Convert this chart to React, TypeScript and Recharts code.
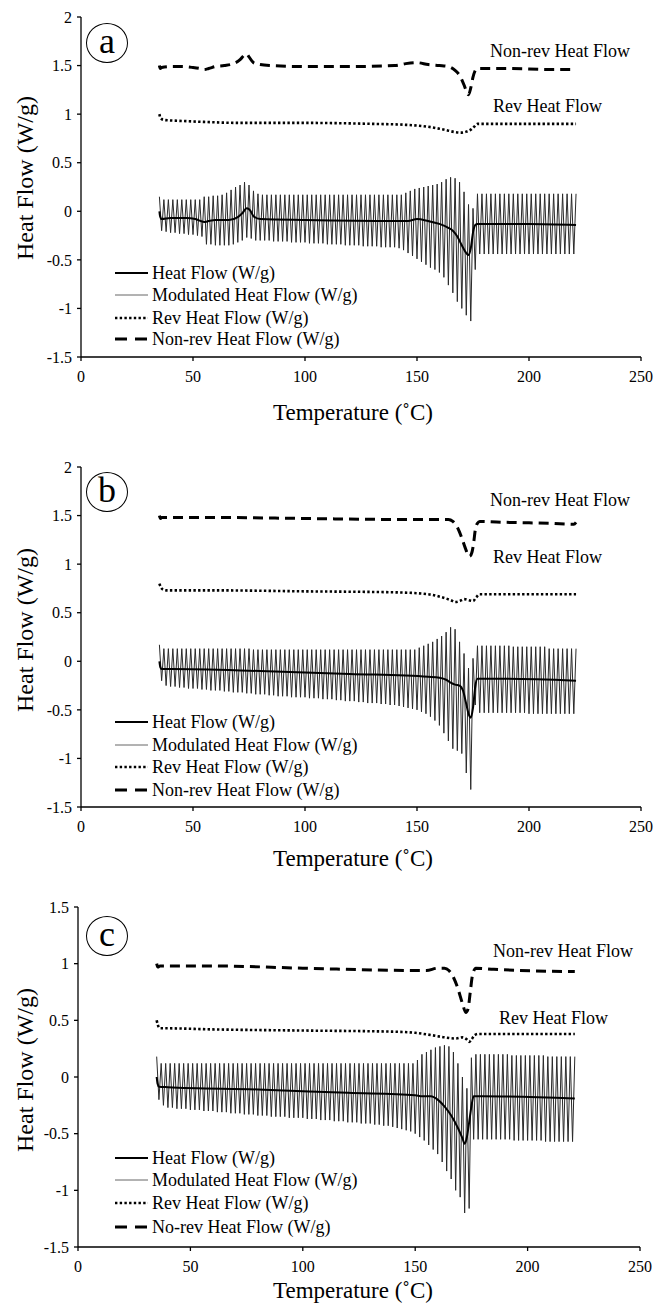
import React from "react"
import { Line, LineChart, XAxis, YAxis } from "recharts"

type Pt = [number, number]

const SERIF = "'Liberation Serif', 'Times New Roman', serif"

const X_TICKS = [0, 50, 100, 150, 200, 250]
const Y_TICKS_AB = [-1.5, -1, -0.5, 0, 0.5, 1, 1.5, 2]
const Y_TICKS_C = [-1.5, -1, -0.5, 0, 0.5, 1, 1.5]

const LEGEND_AB = [
  "Heat Flow (W/g)",
  "Modulated Heat Flow (W/g)",
  "Rev Heat Flow (W/g)",
  "Non-rev Heat Flow (W/g)",
]
const LEGEND_C = [
  "Heat Flow (W/g)",
  "Modulated Heat Flow (W/g)",
  "Rev Heat Flow (W/g)",
  "No-rev Heat Flow (W/g)",
]

// modulation: a peak every 2 °C starting at 35 °C, trough 1 °C after each peak
const MOD_T0 = 35

// ---------- panel a ----------
const hfA: Pt[] = [
  [35, 0], [35.3, -0.05], [36, -0.08], [40, -0.07], [47, -0.07], [51, -0.08], [55, -0.11],
  [57, -0.1], [60, -0.09], [66, -0.09], [70, -0.06], [72, -0.02], [74, 0.03], [75.5, 0.01],
  [77, -0.05], [80, -0.08], [100, -0.09], [140, -0.1], [146, -0.1], [150, -0.08], [155, -0.1],
  [160, -0.13], [164, -0.17], [166, -0.2], [168, -0.26], [170, -0.35], [172, -0.43], [173, -0.45],
  [174, -0.38], [175, -0.22], [176, -0.14], [177, -0.13], [200, -0.13], [221, -0.14],
]
const revA: Pt[] = [
  [35, 1.0], [35.5, 0.96], [37, 0.94], [45, 0.93], [55, 0.92], [70, 0.91], [100, 0.91],
  [130, 0.9], [145, 0.89], [155, 0.87], [160, 0.85], [164, 0.83], [167, 0.815], [170, 0.81],
  [172, 0.82], [174, 0.84], [175.5, 0.87], [177, 0.9], [185, 0.9], [221, 0.9],
]
const nonRevA: Pt[] = [
  [35, 1.5], [35.4, 1.47], [36, 1.48], [40, 1.49], [45, 1.49], [50, 1.48], [53, 1.47], [55, 1.46],
  [57, 1.47], [60, 1.49], [64, 1.5], [68, 1.52], [71, 1.56], [73, 1.61], [74, 1.62], [75, 1.59],
  [77, 1.53], [80, 1.51], [85, 1.5], [100, 1.49], [120, 1.49], [140, 1.5], [145, 1.52], [150, 1.53],
  [155, 1.51], [160, 1.5], [164, 1.49], [167, 1.45], [169, 1.4], [171, 1.3], [172, 1.24], [173, 1.2],
  [174, 1.27], [175, 1.38], [176, 1.45], [177, 1.47], [190, 1.47], [210, 1.46], [221, 1.46],
]
const modHiA = [
  0.15,
  0.12, 0.12, 0.12, 0.12, 0.12, 0.12, 0.12, 0.12, 0.12,
  0.15, 0.15, 0.16, 0.16, 0.17, 0.19, 0.22,
  0.25, 0.27, 0.3, 0.27, 0.21, 0.18, 0.17,
  0.17, 0.17, 0.17, 0.17, 0.17, 0.17, 0.17, 0.17, 0.17, 0.17,
  0.17, 0.17, 0.17, 0.17, 0.17, 0.17, 0.17, 0.17, 0.17, 0.17,
  0.17, 0.17, 0.17, 0.17, 0.17, 0.17, 0.17, 0.17, 0.17, 0.17, 0.17,
  0.19, 0.21, 0.23, 0.24, 0.25, 0.26, 0.27, 0.28,
  0.3, 0.33, 0.35, 0.34, 0.3, 0.2, 0.07, 0.03,
  0.18, 0.18, 0.18, 0.18, 0.18, 0.18, 0.18, 0.18, 0.18, 0.18, 0.18, 0.18,
  0.18, 0.18, 0.18, 0.18, 0.18, 0.18, 0.18, 0.18, 0.18, 0.18, 0.18,
]
const modLoA = [
  -0.2,
  -0.21, -0.22, -0.22, -0.23, -0.23, -0.24, -0.24, -0.25, -0.26,
  -0.34, -0.34, -0.35, -0.35, -0.35, -0.35, -0.34, -0.32,
  -0.3, -0.27, -0.28, -0.3,
  -0.3, -0.3, -0.3, -0.31, -0.31, -0.31, -0.31, -0.32, -0.32, -0.32,
  -0.32, -0.33, -0.33, -0.33, -0.33, -0.34, -0.34, -0.34, -0.34, -0.35,
  -0.35, -0.35, -0.35, -0.36, -0.36, -0.36, -0.36, -0.37, -0.37, -0.37, -0.37,
  -0.38, -0.4, -0.43, -0.46, -0.49, -0.52, -0.55, -0.58, -0.6,
  -0.63, -0.68, -0.76, -0.84, -0.93, -1.0, -1.07, -1.13,
  -0.6,
  -0.44, -0.44, -0.44, -0.44, -0.44, -0.44, -0.44, -0.44, -0.44, -0.44, -0.44,
  -0.44, -0.44, -0.44, -0.44, -0.44, -0.44, -0.44, -0.44, -0.44, -0.44, -0.44,
]

// ---------- panel b ----------
const hfB: Pt[] = [
  [35, 0], [35.4, -0.06], [36, -0.08], [40, -0.08], [80, -0.1], [120, -0.13], [155, -0.16],
  [160, -0.17], [163, -0.19], [165, -0.22], [167, -0.24], [169, -0.25], [170.5, -0.3], [172, -0.44],
  [173, -0.54], [174, -0.58], [175, -0.48], [176, -0.26], [177, -0.18], [190, -0.18], [221, -0.2],
]
const revB: Pt[] = [
  [35, 0.8], [35.5, 0.77], [36.5, 0.74], [38, 0.73], [60, 0.73], [100, 0.72], [140, 0.71],
  [155, 0.69], [161, 0.66], [165, 0.63], [167, 0.61], [169, 0.62], [171, 0.64], [173, 0.63],
  [175, 0.62], [176.5, 0.66], [178, 0.69], [190, 0.69], [221, 0.69],
]
const nonRevB: Pt[] = [
  [35, 1.5], [35.5, 1.47], [36, 1.48], [60, 1.48], [100, 1.47], [140, 1.46], [164, 1.46],
  [166, 1.44], [168, 1.38], [170, 1.27], [171.5, 1.17], [172.5, 1.11], [173.5, 1.08], [174.5, 1.12],
  [175.3, 1.22], [176, 1.35], [177, 1.42], [178, 1.44], [190, 1.43], [210, 1.42], [220, 1.41],
  [221, 1.43],
]
const modHiB = [
  0.17,
  0.13, 0.13, 0.13, 0.13, 0.13, 0.13, 0.13, 0.13, 0.13, 0.13,
  0.13, 0.13, 0.13, 0.13, 0.13, 0.13, 0.13, 0.13, 0.13, 0.13,
  0.12, 0.12, 0.12, 0.12, 0.12, 0.12, 0.12, 0.12, 0.12, 0.12,
  0.12, 0.12, 0.12, 0.12, 0.12, 0.12, 0.12, 0.12, 0.12, 0.12,
  0.12, 0.12, 0.12, 0.12, 0.12, 0.12, 0.12, 0.12, 0.12, 0.12,
  0.12, 0.12, 0.12, 0.12, 0.12, 0.12, 0.12,
  0.14, 0.16, 0.18, 0.2, 0.23, 0.26, 0.3, 0.35, 0.33, 0.2, 0.08, -0.07, 0.03,
  0.16, 0.16, 0.16, 0.16, 0.16, 0.16, 0.16, 0.16,
  0.15, 0.15, 0.15, 0.15, 0.15, 0.15, 0.15, 0.15,
  0.13, 0.13, 0.13, 0.13, 0.13, 0.13, 0.13,
]
const modLoB = [
  -0.2, -0.25,
  -0.26, -0.26, -0.27, -0.27, -0.28, -0.28, -0.28, -0.29, -0.29, -0.3,
  -0.3, -0.3, -0.31, -0.31, -0.32, -0.32, -0.32, -0.33, -0.33, -0.34,
  -0.34, -0.34, -0.35, -0.35, -0.36, -0.36, -0.36, -0.37, -0.37, -0.37,
  -0.37, -0.38, -0.38, -0.38, -0.39, -0.39, -0.39, -0.4, -0.4, -0.41,
  -0.41, -0.41, -0.42, -0.42, -0.43, -0.43, -0.43, -0.44, -0.44, -0.45,
  -0.45, -0.46, -0.47, -0.48, -0.49, -0.5, -0.52, -0.54, -0.57,
  -0.61, -0.66, -0.74, -0.82, -0.9, -0.92, -0.95, -1.15, -1.32,
  -0.45,
  -0.53, -0.53, -0.53, -0.53, -0.53, -0.53, -0.53, -0.53, -0.53, -0.53, -0.53,
  -0.54, -0.54, -0.54, -0.54, -0.54, -0.54, -0.54, -0.54, -0.54, -0.54, -0.54,
]

// ---------- panel c ----------
const hfC: Pt[] = [
  [35, 0], [35.4, -0.06], [36, -0.085], [40, -0.09], [80, -0.11], [120, -0.14], [150, -0.16],
  [153, -0.17], [157, -0.17], [160, -0.2], [163, -0.26], [166, -0.34], [169, -0.45], [171, -0.54],
  [172, -0.59], [173, -0.53], [174, -0.4], [175, -0.26], [176, -0.17], [180, -0.17], [221, -0.19],
]
const revC: Pt[] = [
  [35, 0.5], [35.5, 0.46], [36.5, 0.43], [38, 0.43], [60, 0.42], [100, 0.41], [140, 0.4],
  [150, 0.39], [157, 0.37], [163, 0.35], [168, 0.34], [171, 0.35], [173, 0.33], [174, 0.31],
  [175, 0.33], [176.5, 0.37], [178, 0.38], [221, 0.38],
]
const nonRevC: Pt[] = [
  [35, 1.0], [35.5, 0.97], [36.5, 0.98], [60, 0.98], [100, 0.96], [150, 0.94], [155, 0.94],
  [160, 0.96], [163, 0.96], [165, 0.94], [167, 0.88], [169, 0.78], [171, 0.65], [172.5, 0.57],
  [173.5, 0.6], [174.5, 0.75], [175.5, 0.9], [177, 0.96], [185, 0.95], [221, 0.93],
]
const modHiC = [
  0.18,
  0.12, 0.12, 0.12, 0.12, 0.12, 0.12, 0.12, 0.12, 0.12, 0.12,
  0.12, 0.12, 0.12, 0.12, 0.12, 0.12, 0.12, 0.12, 0.12, 0.12,
  0.12, 0.12, 0.12, 0.12, 0.12, 0.12, 0.12, 0.12, 0.12, 0.12,
  0.12, 0.12, 0.12, 0.12, 0.12, 0.12, 0.12, 0.12, 0.12, 0.12,
  0.12, 0.12, 0.12, 0.12, 0.12, 0.12, 0.12, 0.12, 0.12, 0.12,
  0.12, 0.12, 0.12, 0.12, 0.12, 0.12, 0.12,
  0.15, 0.2, 0.22, 0.24, 0.26, 0.27, 0.28, 0.27, 0.22, 0.12, 0.0, -0.1, 0.17,
  0.2, 0.2, 0.2, 0.2, 0.2, 0.2, 0.2, 0.2,
  0.19, 0.19, 0.19, 0.19, 0.19, 0.19, 0.19, 0.19,
  0.18, 0.18, 0.18, 0.18, 0.18, 0.18, 0.18,
]
const modLoC = [
  -0.2, -0.25,
  -0.27, -0.27, -0.28, -0.28, -0.28, -0.29, -0.29, -0.29, -0.3, -0.3,
  -0.3, -0.31, -0.31, -0.31, -0.32, -0.32, -0.32, -0.33, -0.33, -0.33,
  -0.34, -0.34, -0.34, -0.35, -0.35, -0.35, -0.35, -0.36, -0.36, -0.36,
  -0.36, -0.37, -0.37, -0.37, -0.38, -0.38, -0.38, -0.39, -0.39, -0.39,
  -0.4, -0.4, -0.4, -0.41, -0.41, -0.41, -0.42, -0.42, -0.43, -0.43,
  -0.44, -0.45, -0.46, -0.47, -0.48,
  -0.5, -0.53, -0.56, -0.6, -0.64, -0.68, -0.75, -0.83, -0.9, -1.0, -1.06, -1.2, -1.16,
  -0.55,
  -0.55, -0.55, -0.55, -0.55, -0.55, -0.55, -0.55, -0.55,
  -0.56, -0.56, -0.56, -0.56, -0.56, -0.56, -0.56,
  -0.57, -0.57, -0.57, -0.57, -0.57, -0.57, -0.57,
]

const toRows = (pts: Pt[]) => pts.map(([t, v]) => ({ t, v }))

// zig-zag of the modulated signal: peak, trough, peak, ...
function modRows(hi: number[], lo: number[]) {
  const rows: { t: number; v: number }[] = []
  hi.forEach((h, i) => {
    rows.push({ t: MOD_T0 + 2 * i, v: h })
    if (i < lo.length) rows.push({ t: MOD_T0 + 2 * i + 1, v: lo[i] })
  })
  return rows
}

const axisStyle = { stroke: "#000", strokeWidth: 1.3 }
const tickStyle = { fill: "#000", fontSize: 16, fontFamily: SERIF }

function Swatch({ kind }: { kind: number }) {
  const props = [
    { stroke: "#000", strokeWidth: 2 },
    { stroke: "#666", strokeWidth: 1 },
    { stroke: "#000", strokeWidth: 2.6, strokeDasharray: "2.4 2.3" },
    { stroke: "#000", strokeWidth: 3, strokeDasharray: "12 8" },
  ][kind]
  return (
    <svg width={34} height={8} style={{ display: "block" }}>
      <line x1={0} y1={4} x2={33} y2={4} {...props} />
    </svg>
  )
}

interface PanelProps {
  top: number
  height: number
  left: number
  right: number
  letter: string
  letterY: number
  yTicks: number[]
  hf: Pt[]
  rev: Pt[]
  nonRev: Pt[]
  modHi: number[]
  modLo: number[]
  legend: string[]
  legendY: number[]
  nonRevNote: [number, number]
  revNote: [number, number]
  yTitleY: number
  xTitleY: number
}

function Panel(p: PanelProps) {
  const plotTop = 17
  const plotBottom = 357
  const xAxisH = 30
  const yMin = p.yTicks[0]
  const yMax = p.yTicks[p.yTicks.length - 1]
  const text = (x: number, y: number, size: number, s: string) => (
    <div
      style={{
        position: "absolute",
        left: x,
        top: y,
        transform: "translateY(-50%)",
        fontFamily: SERIF,
        fontSize: size,
        lineHeight: 1,
        whiteSpace: "nowrap",
        color: "#000",
      }}
    >
      {s}
    </div>
  )

  return (
    <div style={{ position: "absolute", left: 0, top: p.top, width: 656, height: p.height }}>
      <LineChart
        width={656}
        height={p.height}
        margin={{ top: plotTop, right: 656 - p.right, bottom: p.height - plotBottom - xAxisH, left: 0 }}
      >
        <XAxis
          xAxisId="b"
          dataKey="t"
          type="number"
          domain={[0, 250]}
          ticks={X_TICKS}
          allowDataOverflow
          height={xAxisH}
          tickSize={4}
          tickMargin={10}
          axisLine={axisStyle}
          tickLine={axisStyle}
          tick={tickStyle}
        />
        <XAxis
          xAxisId="t"
          orientation="top"
          type="number"
          domain={[0, 250]}
          height={0}
          tick={false}
          tickLine={false}
          axisLine={axisStyle}
        />
        <YAxis
          yAxisId="l"
          type="number"
          domain={[yMin, yMax]}
          ticks={p.yTicks}
          allowDataOverflow
          width={p.left}
          tickSize={4}
          tickMargin={5}
          axisLine={axisStyle}
          tickLine={axisStyle}
          tick={tickStyle}
        />
        <YAxis
          yAxisId="r"
          orientation="right"
          type="number"
          domain={[0, 1]}
          width={0}
          tick={false}
          tickLine={false}
          axisLine={axisStyle}
        />
        <Line
          xAxisId="b"
          yAxisId="l"
          data={modRows(p.modHi, p.modLo)}
          dataKey="v"
          type="linear"
          stroke="#2a2a2a"
          strokeWidth={1}
          dot={false}
          activeDot={false}
          isAnimationActive={false}
        />
        <Line
          xAxisId="b"
          yAxisId="l"
          data={toRows(p.hf)}
          dataKey="v"
          type="monotone"
          stroke="#000"
          strokeWidth={2}
          dot={false}
          activeDot={false}
          isAnimationActive={false}
        />
        <Line
          xAxisId="b"
          yAxisId="l"
          data={toRows(p.rev)}
          dataKey="v"
          type="monotone"
          stroke="#000"
          strokeWidth={2.6}
          strokeDasharray="2.4 2.3"
          dot={false}
          activeDot={false}
          isAnimationActive={false}
        />
        <Line
          xAxisId="b"
          yAxisId="l"
          data={toRows(p.nonRev)}
          dataKey="v"
          type="monotone"
          stroke="#000"
          strokeWidth={3}
          strokeDasharray="10 6"
          dot={false}
          activeDot={false}
          isAnimationActive={false}
        />
      </LineChart>

      {/* panel letter */}
      <div
        style={{
          position: "absolute",
          left: 86,
          top: p.letterY - 21,
          width: 42,
          height: 40,
          border: "1.5px solid #000",
          borderRadius: "50%",
          display: "flex",
          alignItems: "center",
          justifyContent: "center",
          fontFamily: SERIF,
          fontSize: 36,
          lineHeight: 1,
          boxSizing: "border-box",
          paddingBottom: 4,
        }}
      >
        {p.letter}
      </div>

      {text(p.nonRevNote[0], p.nonRevNote[1], 18, "Non-rev Heat Flow")}
      {text(p.revNote[0], p.revNote[1], 18, "Rev Heat Flow")}

      {/* legend */}
      {p.legend.map((label, i) => (
        <div
          key={label}
          style={{
            position: "absolute",
            left: 115,
            top: p.legendY[i],
            transform: "translateY(-50%)",
            display: "flex",
            alignItems: "center",
            gap: 3,
            fontFamily: SERIF,
            fontSize: 18,
            lineHeight: 1,
            whiteSpace: "nowrap",
          }}
        >
          <Swatch kind={i} />
          <span>{label}</span>
        </div>
      ))}

      {/* axis titles */}
      <div
        style={{
          position: "absolute",
          left: 25,
          top: p.yTitleY,
          transform: "translate(-50%, -50%) rotate(-90deg)",
          fontFamily: SERIF,
          fontSize: 24,
          lineHeight: 1,
          whiteSpace: "nowrap",
        }}
      >
        Heat Flow (W/g)
      </div>
      <div
        style={{
          position: "absolute",
          left: 353,
          top: p.xTitleY,
          transform: "translate(-50%, -50%)",
          fontFamily: SERIF,
          fontSize: 23,
          lineHeight: 1,
          whiteSpace: "nowrap",
        }}
      >
        Temperature (˚C)
      </div>
    </div>
  )
}

export default function App() {
  return (
    <div style={{ position: "absolute", left: 0, top: 0, width: 656, height: 1305, background: "#fff" }}>
      <Panel
        top={0}
        height={440}
        left={81}
        right={641}
        letter="a"
        letterY={44}
        yTicks={Y_TICKS_AB}
        hf={hfA}
        rev={revA}
        nonRev={nonRevA}
        modHi={modHiA}
        modLo={modLoA}
        legend={LEGEND_AB}
        legendY={[273, 295, 318, 339]}
        nonRevNote={[490, 51]}
        revNote={[493, 106]}
        yTitleY={178}
        xTitleY={412}
      />
      <Panel
        top={450}
        height={440}
        left={81}
        right={641}
        letter="b"
        letterY={43}
        yTicks={Y_TICKS_AB}
        hf={hfB}
        rev={revB}
        nonRev={nonRevB}
        modHi={modHiB}
        modLo={modLoB}
        legend={LEGEND_AB}
        legendY={[272, 295, 317, 340]}
        nonRevNote={[490, 50]}
        revNote={[493, 107]}
        yTitleY={180}
        xTitleY={408}
      />
      <Panel
        top={890}
        height={415}
        left={78}
        right={640}
        letter="c"
        letterY={47}
        yTicks={Y_TICKS_C}
        hf={hfC}
        rev={revC}
        nonRev={nonRevC}
        modHi={modHiC}
        modLo={modLoC}
        legend={LEGEND_C}
        legendY={[268, 290, 313, 337]}
        nonRevNote={[493, 61]}
        revNote={[499, 128]}
        yTitleY={180}
        xTitleY={400}
      />
    </div>
  )
}
